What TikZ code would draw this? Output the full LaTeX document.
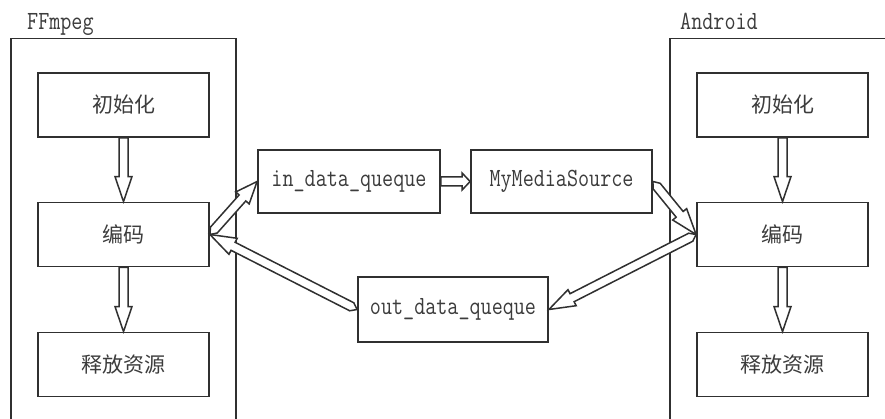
\documentclass[tikz,border=0pt]{standalone}
\usepackage{fontspec}
\usepackage{graphicx}
\newfontfamily\cjk{Noto Sans CJK SC}
\usetikzlibrary{calc}
\definecolor{ink}{HTML}{303030}
\definecolor{txt}{HTML}{3C3C3C}
\newcommand\tall[1]{\scalebox{1}[1.22]{#1}}
\tikzset{
  box/.style={draw=ink, line width=1.8pt, fill=white, inner sep=0pt, text=txt},
  cnbox/.style={box, minimum width=171pt, minimum height=64pt, font=\cjk\fontsize{21}{24}\selectfont},
  qbox/.style={box, minimum height=63pt, font=\ttfamily\fontsize{21.5}{24}\selectfont},
  frame/.style={draw=ink, line width=1.8pt},
  title/.style={anchor=base west, inner sep=0pt, text=txt, font=\ttfamily\fontsize{21.5}{24}\selectfont},
  arrowline/.style={draw=ink, line width=1.5pt, fill=white, line join=miter}
}
% hollow block arrow with pointed tail: #1 tail taper, #2 head length, #3 from, #4 to
\newcommand\hollowarrow[4]{%
  \path[arrowline] let \p1=(#3), \p2=(#4),
      \n1={atan2(\y2-\y1,\x2-\x1)}, \n2={veclen(\x2-\x1,\y2-\y1)} in
    [shift={(\p1)}, rotate=\n1]
    (0pt,0pt) -- (#1pt,-4.5pt) -- ({\n2-#2pt},-4.5pt) -- ({\n2-#2pt},-9pt) -- ({\n2},0pt)
    -- ({\n2-#2pt},9pt) -- ({\n2-#2pt},4.5pt) -- (#1pt,4.5pt) -- cycle;
}
% hollow block arrow with flat tail: #1 head length, #2 from, #3 to
\newcommand\vhollow[3]{%
  \path[arrowline] let \p1=(#2), \p2=(#3),
      \n1={atan2(\y2-\y1,\x2-\x1)}, \n2={veclen(\x2-\x1,\y2-\y1)} in
    [shift={(\p1)}, rotate=\n1]
    (0pt,-4.5pt) -- ({\n2-#1pt},-4.5pt) -- ({\n2-#1pt},-8.5pt) -- ({\n2},0pt)
    -- ({\n2-#1pt},8.5pt) -- ({\n2-#1pt},4.5pt) -- (0pt,4.5pt) -- cycle;
}
\begin{document}
\begin{tikzpicture}[x=1pt,y=-1pt]
\useasboundingbox[fill=white] (0,0) rectangle (885,419);
% containers
\draw[frame] (11,425) -- (11,38.5) -- (236,38.5) -- (236,425);
\draw[frame] (670,425) -- (670,38.5) -- (890,38.5);
\node[title] (lt) at (27,30) {\tall{FFmpeg}};
\node[title] (rt) at (680,30) {\tall{Android}};
% left column
\node[cnbox] (li) at (123.5,105) {初始化};
\node[cnbox] (le) at (123.5,234.5) {编码};
\node[cnbox] (lr) at (123.5,364.5) {释放资源};
% right column
\node[cnbox] (ri) at (782.5,105) {初始化};
\node[cnbox] (re) at (782.5,234.5) {编码};
\node[cnbox] (rr) at (782.5,364.5) {释放资源};
% middle
\node[qbox, minimum width=182pt] (in) at (349,181.5) {\tall{in\_data\_queque}};
\node[qbox, minimum width=181pt] (ms) at (561.5,181.5) {\tall{MyMediaSource}};
\node[qbox, minimum width=190pt, minimum height=65pt] (out) at (453,309.5) {\tall{out\_data\_queque}};
% vertical arrows
\vhollow{25}{li.south}{le.north}
\vhollow{25}{le.south}{lr.north}
\vhollow{25}{ri.south}{re.north}
\vhollow{25}{re.south}{rr.north}
% horizontal arrow
\vhollow{8}{in.east}{ms.west}
% diagonal arrows
\hollowarrow{6}{22}{le.east}{in.west}
\hollowarrow{6}{26}{out.west}{le.east}
\hollowarrow{6}{26}{ms.east}{re.west}
\hollowarrow{6}{26}{re.west}{out.east}
\end{tikzpicture}
\end{document}
